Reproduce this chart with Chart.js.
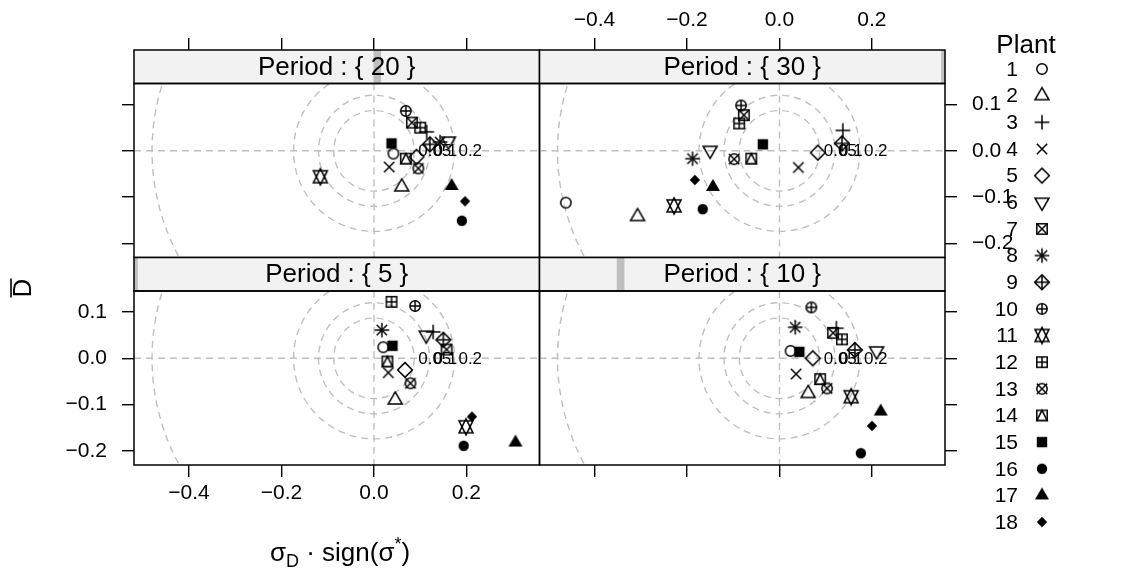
<!DOCTYPE html>
<html>
<head>
<meta charset="utf-8">
<script src="https://cdn.jsdelivr.net/npm/chart.js@4.4.1/dist/chart.umd.min.js"></script>
<style>
body { margin: 0; background: #fff; }
#wrap { position: relative; width: 1136px; height: 572px; }
#wrap canvas { position: absolute; left: 0; top: 0; }
</style>
</head>
<body>
<div id="wrap">
  <canvas id="p20" width="1136" height="572"></canvas>
  <canvas id="p30" width="1136" height="572"></canvas>
  <canvas id="p5" width="1136" height="572"></canvas>
  <canvas id="p10" width="1136" height="572"></canvas>
</div>
<script>
// plants 1..18, each drawn with R's pch of the same number
const plants = [1, 2, 3, 4, 5, 6, 7, 8, 9, 10, 11, 12, 13, 14, 15, 16, 17, 18];
const xTicks = [-0.4, -0.2, 0.0, 0.2];
const yTicks = [-0.2, -0.1, 0.0, 0.1];
const xLimits = [-0.519, 0.358];
const yLimits = [-0.2305, 0.1454];
const circleRadii = [0.087, 0.12, 0.174, 0.48];
const circleLabels = ['0.05', '0.1', '0.2', ''];
const periodLevels = [5, 10, 20, 30];

// sigma_D * sign(sigma*) and mean bias, by plant, for each period
const x20 = [0.042, 0.060, 0.114, 0.033, 0.092, 0.161, 0.082, 0.143, 0.121, 0.069, -0.116, 0.100, 0.096, 0.069, 0.038, 0.190, 0.168, 0.197];
const y20 = [-0.006, -0.078, 0.041, -0.035, -0.013, 0.021, 0.061, 0.019, 0.014, 0.086, -0.056, 0.050, -0.038, -0.017, 0.016, -0.151, -0.076, -0.109];

const x30 = [-0.462, -0.307, 0.137, 0.041, 0.083, -0.150, -0.077, -0.188, 0.135, -0.083, -0.228, -0.087, -0.098, -0.061, -0.036, -0.166, -0.144, -0.183];
const y30 = [-0.112, -0.142, 0.044, -0.036, -0.004, 0.001, 0.077, -0.017, 0.016, 0.098, -0.119, 0.059, -0.018, -0.017, 0.014, -0.126, -0.078, -0.063];

const x5 = [0.020, 0.046, 0.128, 0.031, 0.067, 0.113, 0.157, 0.017, 0.150, 0.089, 0.199, 0.038, 0.079, 0.029, 0.040, 0.194, 0.306, 0.212];
const y5 = [0.024, -0.090, 0.057, -0.031, -0.025, 0.050, 0.019, 0.061, 0.040, 0.113, -0.148, 0.122, -0.054, -0.007, 0.027, -0.189, -0.182, -0.126];

const x10 = [0.024, 0.062, 0.123, 0.036, 0.072, 0.210, 0.116, 0.034, 0.163, 0.069, 0.155, 0.135, 0.103, 0.088, 0.043, 0.176, 0.219, 0.200];
const y10 = [0.016, -0.076, 0.065, -0.034, 0.000, 0.016, 0.055, 0.067, 0.018, 0.110, -0.083, 0.041, -0.065, -0.045, 0.014, -0.205, -0.115, -0.146];

const FONT = "'Liberation Sans', Arial, Helvetica, sans-serif";
const cols = [[134, 539.5], [539.5, 945]];
const rows = [{ strip: 50, top: 83.5, bottom: 257.5 }, { strip: 257.5, top: 291, bottom: 465 }];

// R-like plotting symbols
function drawPch(g, pch, x, y, R) {
  const T0 = 1.5551, T1 = 1.3468, T2 = 0.7776, S = Math.SQRT2;
  g.strokeStyle = '#000';
  g.fillStyle = '#000';
  g.lineWidth = 1.5;
  const line = (a, b, c, d) => { g.beginPath(); g.moveTo(a, b); g.lineTo(c, d); g.stroke(); };
  const circ = (r, fill) => { g.beginPath(); g.arc(x, y, r, 0, 2 * Math.PI); fill ? g.fill() : g.stroke(); };
  const poly = (pts, fill) => {
    g.beginPath();
    pts.forEach((p, i) => i ? g.lineTo(p[0], p[1]) : g.moveTo(p[0], p[1]));
    g.closePath();
    fill ? g.fill() : g.stroke();
  };
  const plus = h => { line(x - h, y, x + h, y); line(x, y - h, x, y + h); };
  const cross = h => { line(x - h, y - h, x + h, y + h); line(x - h, y + h, x + h, y - h); };
  const square = () => g.strokeRect(x - R, y - R, 2 * R, 2 * R);
  const diamond = (h, fill) => poly([[x, y - h], [x + h, y], [x, y + h], [x - h, y]], fill);
  const up = fill => poly([[x, y - T0 * R], [x + T1 * R, y + T2 * R], [x - T1 * R, y + T2 * R]], fill);
  switch (pch) {
    case 1: circ(R); break;
    case 2: up(false); break;
    case 3: plus(S * R); break;
    case 4: cross(R); break;
    case 5: diamond(S * R); break;
    case 6: poly([[x, y + T0 * R], [x + T1 * R, y - T2 * R], [x - T1 * R, y - T2 * R]]); break;
    case 7: square(); cross(R); break;
    case 8: cross(R); plus(S * R); break;
    case 9: diamond(S * R); plus(S * R); break;
    case 10: circ(R); plus(R); break;
    case 11: {
      const r = T0 * R, yc = 0.5 * (T2 * R + r), xc = T1 * R;
      poly([[x, y - r], [x + xc, y + yc], [x - xc, y + yc]]);
      poly([[x, y + r], [x + xc, y - yc], [x - xc, y - yc]]);
      break;
    }
    case 12: square(); plus(R); break;
    case 13: circ(R); cross(R); break;
    case 14: square(); poly([[x - R, y + R], [x, y - R], [x + R, y + R]]); break;
    case 15: g.fillRect(x - R, y - R, 2 * R, 2 * R); break;
    case 16: circ(R, true); break;
    case 17: up(true); break;
    case 18: diamond(R, true); break;
  }
}

const symbols = plants.map(p => {
  const c = document.createElement('canvas');
  c.width = 26; c.height = 26;
  drawPch(c.getContext('2d'), p, 13, 13, 5.2);
  return c;
});

const fmt = v => v.toFixed(1).replace('-', '\u2212');

const panelPlugin = {
  id: 'panel',
  beforeDatasetsDraw(chart, args, opts) {
    const { ctx, chartArea: a, scales: { x, y } } = chart;
    ctx.save();
    ctx.beginPath();
    ctx.rect(a.left, a.top, a.right - a.left, a.bottom - a.top);
    ctx.clip();
    ctx.strokeStyle = '#bfbfbf';
    ctx.lineWidth = 1.4;
    ctx.setLineDash([7, 5]);
    const cx = x.getPixelForValue(0), cy = y.getPixelForValue(0);
    ctx.beginPath();
    ctx.moveTo(a.left, cy); ctx.lineTo(a.right, cy);
    ctx.moveTo(cx, a.top); ctx.lineTo(cx, a.bottom);
    ctx.stroke();
    circleRadii.forEach(r => {
      const rx = x.getPixelForValue(r) - cx;
      const ry = cy - y.getPixelForValue(r);
      ctx.beginPath();
      ctx.ellipse(cx, cy, rx, ry, 0, 0, 2 * Math.PI);
      ctx.stroke();
    });
    ctx.setLineDash([]);
    ctx.fillStyle = '#000';
    ctx.font = '17px ' + FONT;
    ctx.textAlign = 'left';
    ctx.textBaseline = 'middle';
    circleRadii.forEach((r, i) => {
      if (circleLabels[i]) ctx.fillText(circleLabels[i], x.getPixelForValue(r) + 4, cy + 1);
    });
    ctx.restore();
  },
  afterDraw(chart, args, opts) {
    const { ctx, chartArea: a } = chart;
    const top = opts.stripTop;
    const h = a.top - top;
    ctx.save();
    ctx.fillStyle = '#f2f2f2';
    ctx.fillRect(a.left, top, a.right - a.left, h);
    // level indicator
    const f = (opts.period - periodLevels[0]) / (periodLevels[periodLevels.length - 1] - periodLevels[0]);
    const bx = a.left + f * (a.right - a.left);
    const bl = Math.max(a.left, bx - 3.8), br = Math.min(a.right, bx + 3.8);
    ctx.fillStyle = '#bfbfbf';
    ctx.fillRect(bl, top, br - bl, h);
    ctx.fillStyle = '#000';
    ctx.font = '26px ' + FONT;
    ctx.textAlign = 'center';
    ctx.textBaseline = 'middle';
    ctx.fillText('Period : { ' + opts.period + ' }', (a.left + a.right) / 2, top + h / 2 + 1);
    ctx.strokeStyle = '#000';
    ctx.lineWidth = 1.5;
    ctx.strokeRect(a.left, top, a.right - a.left, h);
    ctx.strokeRect(a.left, a.top, a.right - a.left, a.bottom - a.top);
    ctx.restore();
  }
};

const decorPlugin = {
  id: 'decor',
  afterDraw(chart) {
    const ctx = chart.ctx;
    ctx.save();
    ctx.fillStyle = '#000';
    ctx.strokeStyle = '#000';
    // legend
    ctx.font = '26px ' + FONT;
    ctx.textAlign = 'center';
    ctx.textBaseline = 'middle';
    ctx.fillText('Plant', 1026, 46);
    ctx.font = '21px ' + FONT;
    ctx.textAlign = 'right';
    plants.forEach((p, i) => {
      const yy = 69 + i * 26.65;
      ctx.fillText(String(p), 1018, yy + 1);
      ctx.drawImage(symbols[i], 1042 - 13, yy - 13);
    });
    // x title: sigma_D . sign(sigma*)
    const parts = [
      ['\u03c3', 26, 0], ['D', 18, 6], [' \u00b7 sign(\u03c3', 26, 0], ['*', 18, -11], [')', 26, 0]
    ];
    let w = 0;
    parts.forEach(p => { ctx.font = p[1] + 'px ' + FONT; w += ctx.measureText(p[0]).width; });
    let xx = 340 - w / 2;
    ctx.textAlign = 'left';
    ctx.textBaseline = 'alphabetic';
    parts.forEach(p => {
      ctx.font = p[1] + 'px ' + FONT;
      ctx.fillText(p[0], xx, 561 + p[2]);
      xx += ctx.measureText(p[0]).width;
    });
    // y title: D with overline
    ctx.translate(24, 288);
    ctx.rotate(-Math.PI / 2);
    ctx.font = '26px ' + FONT;
    ctx.textAlign = 'center';
    ctx.textBaseline = 'middle';
    ctx.fillText('D', 0, 0);
    const dw = ctx.measureText('D').width;
    ctx.lineWidth = 1.6;
    ctx.beginPath();
    ctx.moveTo(-dw / 2, -13);
    ctx.lineTo(dw / 2, -13);
    ctx.stroke();
    ctx.restore();
  }
};

const panels = [
  { id: 'p20', period: 20, col: 0, row: 0, xPos: 'top', yPos: 'left', xLab: false, yLab: false, xs: x20, ys: y20 },
  { id: 'p30', period: 30, col: 1, row: 0, xPos: 'top', yPos: 'right', xLab: true, yLab: true, xs: x30, ys: y30 },
  { id: 'p5', period: 5, col: 0, row: 1, xPos: 'bottom', yPos: 'left', xLab: true, yLab: true, xs: x5, ys: y5 },
  { id: 'p10', period: 10, col: 1, row: 1, xPos: 'bottom', yPos: 'right', xLab: false, yLab: false, xs: x10, ys: y10 }
];

const SIDE = 100, TOPAX = 80, BOTAX = 60;

panels.forEach((p, k) => {
  const c = cols[p.col], r = rows[p.row];
  const stripH = r.top - r.strip;
  const padding = {
    left: p.yPos === 'left' ? c[0] - SIDE : c[0],
    right: 1136 - c[1] - (p.yPos === 'right' ? SIDE : 0),
    top: p.xPos === 'top' ? r.top - TOPAX : r.top,
    bottom: 572 - r.bottom - (p.xPos === 'bottom' ? BOTAX : 0)
  };
  new Chart(document.getElementById(p.id), {
    type: 'scatter',
    data: {
      datasets: [{
        label: 'Period ' + p.period,
        data: plants.map((pl, i) => ({ x: p.xs[i], y: p.ys[i] })),
        pointStyle: symbols,
        pointRadius: 5,
        pointHoverRadius: 5
      }]
    },
    options: {
      responsive: false,
      devicePixelRatio: 1,
      animation: false,
      events: [],
      layout: { padding: padding, autoPadding: false },
      plugins: {
        legend: { display: false },
        tooltip: { enabled: false },
        panel: { period: p.period, stripTop: r.strip }
      },
      scales: {
        x: {
          type: 'linear',
          position: p.xPos,
          min: xLimits[0],
          max: xLimits[1],
          afterBuildTicks: s => { s.ticks = xTicks.map(v => ({ value: v })); },
          afterFit: s => { s.height = p.xPos === 'top' ? TOPAX : BOTAX; },
          grid: {
            drawOnChartArea: false,
            drawTicks: true,
            tickLength: p.xPos === 'top' ? 12 + stripH : 12,
            color: '#000',
            lineWidth: 1.4
          },
          border: { display: false },
          ticks: {
            display: p.xLab,
            autoSkip: false,
            maxRotation: 0,
            padding: p.xPos === 'top' ? 5 : 4,
            color: '#000',
            font: { family: FONT, size: 21 },
            callback: v => fmt(v)
          }
        },
        y: {
          type: 'linear',
          position: p.yPos,
          min: yLimits[0],
          max: yLimits[1],
          afterBuildTicks: s => { s.ticks = yTicks.map(v => ({ value: v })); },
          afterFit: s => { s.width = SIDE; },
          grid: {
            drawOnChartArea: false,
            drawTicks: true,
            tickLength: 12,
            color: '#000',
            lineWidth: 1.4
          },
          border: { display: false },
          ticks: {
            display: p.yLab,
            autoSkip: false,
            padding: 15,
            color: '#000',
            font: { family: FONT, size: 21 },
            callback: v => fmt(v)
          }
        }
      }
    },
    plugins: k === panels.length - 1 ? [panelPlugin, decorPlugin] : [panelPlugin]
  });
});
</script>
</body>
</html>
